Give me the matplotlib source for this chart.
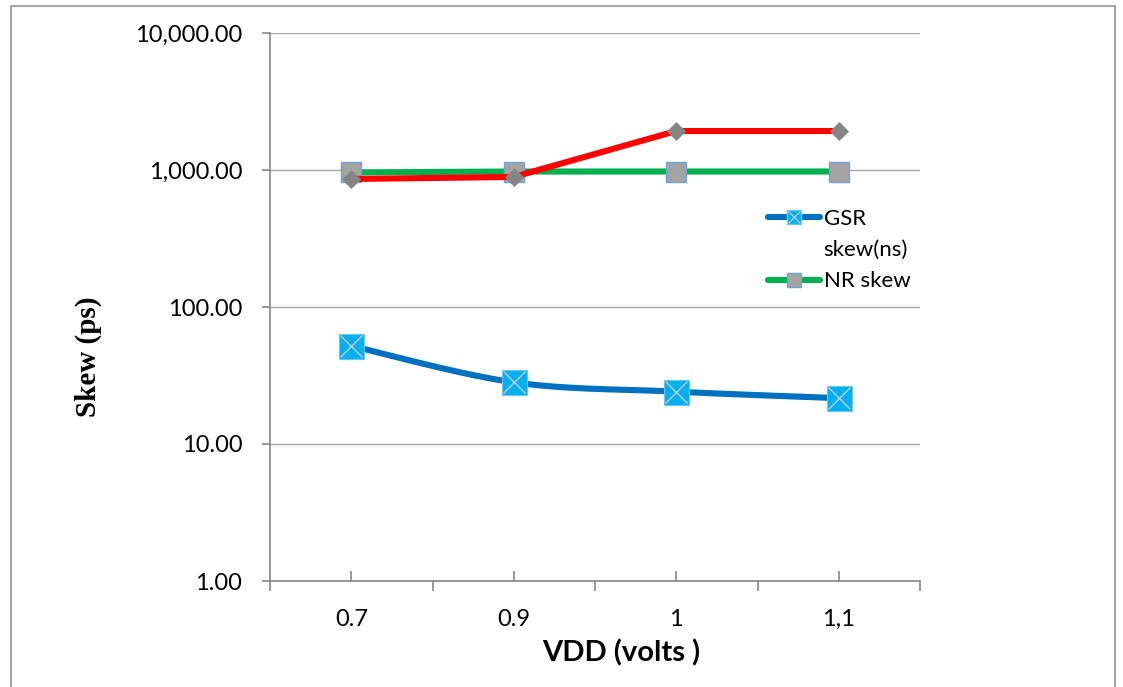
import numpy as np
import matplotlib
matplotlib.use("Agg")
import matplotlib.pyplot as plt
from matplotlib.lines import Line2D
from matplotlib.patches import Rectangle
from matplotlib.ticker import FuncFormatter, FixedLocator, NullFormatter
from matplotlib.legend_handler import HandlerTuple

# Supply voltage categories and skew measurements
vdd_labels = ["0.7", "0.9", "1", "1,1"]
gsr_skew = [52.0, 28.2, 24.1, 21.6]
nr_skew = [960.0, 975.0, 975.0, 975.0]
third_skew = [860.0, 890.0, 1925.0, 1925.0]
y_ticks = [1, 10, 100, 1000, 10000]

W, H = 1123, 687
fig = plt.figure(figsize=(W / 100, H / 100), dpi=100)
fig.patch.set_facecolor("white")

# axes box in pixel terms
left, right, top, bottom = 270, 920, 33, 581
ax = fig.add_axes([left / W, 1 - bottom / H, (right - left) / W, (bottom - top) / H])

tick_font = "Lato"
x = np.arange(len(vdd_labels))


def smooth_curve(xs, ys, n=40):
    """Bezier smoothing through the points in (x, log10 y) space."""
    px = np.asarray(xs, float)
    py = np.log10(np.asarray(ys, float))
    # scale to roughly pixel proportions so the smoothing looks even
    sx, sy = 162.5, 137.0
    P = np.column_stack([px * sx, py * sy])
    out = [P[0]]
    for i in range(len(P) - 1):
        p0 = P[i - 1] if i > 0 else P[i]
        p1 = P[i]
        p2 = P[i + 1]
        p3 = P[i + 2] if i + 2 < len(P) else P[i + 1]
        c1 = p1 + (p2 - p0) / 6.0
        c2 = p2 - (p3 - p1) / 6.0
        t = np.linspace(0, 1, n)[1:, None]
        seg = ((1 - t) ** 3) * p1 + 3 * ((1 - t) ** 2) * t * c1 + 3 * (1 - t) * t ** 2 * c2 + t ** 3 * p2
        out.extend(seg)
    out = np.array(out)
    return out[:, 0] / sx, 10 ** (out[:, 1] / sy)


# GSR skew: smoothed blue line with boxed-x markers
cx, cy = smooth_curve(x, gsr_skew)
ax.plot(cx, cy, color="#0070C0", lw=4.4, solid_capstyle="round", zorder=3)
ax.plot(x, gsr_skew, ls="none", marker="s", ms=18, mfc="#00B0F0", mec="#6CC8EE", mew=0.8, zorder=4)
ax.plot(x, gsr_skew, ls="none", marker="x", ms=16, mec="#C8C8C8", mew=1.0, zorder=5)

# NR skew: green line with grey squares
ax.plot(x, nr_skew, color="#00B050", lw=4.4, zorder=3)
ax.plot(x, nr_skew, ls="none", marker="s", ms=14, mfc="#A3A3A3", mec="#6FA3DC", mew=1.0, zorder=4)

# third series: red line with grey diamonds
ax.plot(x, third_skew, color="#FF0000", lw=4.4, zorder=5)
ax.plot(x, third_skew, ls="none", marker="D", ms=9.5, mfc="#858585", mec="#8A8A8A", mew=0.6, zorder=6)

ax.set_yscale("log")
ax.set_ylim(1, 10000)
ax.set_xlim(-0.5, len(vdd_labels) - 0.5)

ax.yaxis.set_major_locator(FixedLocator(y_ticks))
ax.yaxis.set_minor_locator(FixedLocator([]))
ax.yaxis.set_major_formatter(FuncFormatter(lambda v, p: f"{v:,.2f}"))
ax.grid(axis="y", which="major", color="#A6A6A6", lw=1.0, zorder=0)

ax.set_xticks(x)
ax.set_xticklabels(vdd_labels)
ax.xaxis.set_minor_locator(FixedLocator(np.arange(-0.5, len(vdd_labels), 1.0)))
ax.xaxis.set_minor_formatter(NullFormatter())

for s in ["top", "right"]:
    ax.spines[s].set_visible(False)
for s in ["left", "bottom"]:
    ax.spines[s].set_color("#868686")
    ax.spines[s].set_linewidth(1.2)

ax.tick_params(axis="x", which="major", direction="in", length=7, width=1.2, color="#868686",
               pad=20, labelsize=17)
ax.tick_params(axis="x", which="minor", direction="out", length=7, width=1.2, color="#868686")
ax.tick_params(axis="y", which="major", direction="out", length=6, width=1.2, color="#868686",
               pad=14, labelsize=17)
for lab in ax.get_xticklabels() + ax.get_yticklabels():
    lab.set_fontfamily(tick_font)

# axis titles
fig.text(621 / W, 1 - 653 / H, "VDD (volts )", ha="center", va="center",
         fontsize=21, fontweight="bold", family="Lato")
fig.text(88 / W, 1 - 357 / H, "Skew (ps)", ha="center", va="center", rotation=90,
         fontsize=21, fontweight="bold", family="Liberation Serif")

# legend
h_gsr_line = Line2D([], [], color="#0070C0", lw=4.4, marker="s", ms=10, mfc="#00B0F0", mec="#6CC8EE",
                    solid_capstyle="round")
h_gsr_x = Line2D([], [], ls="none", marker="x", ms=9, mec="#C8C8C8", mew=0.9)
h_blank = Line2D([], [], color="none")
h_nr = Line2D([], [], color="#00B050", lw=4.4, marker="s", ms=10, mfc="#A3A3A3", mec="#6FA3DC",
              solid_capstyle="round")
leg = fig.legend([(h_gsr_line, h_gsr_x), h_blank, h_nr], ["GSR", "skew(ns)", "NR skew"],
                 handler_map={tuple: HandlerTuple(ndivide=1, pad=0)},
                 loc="upper left", bbox_to_anchor=(757 / W, 1 - 198 / H),
                 frameon=False, prop={"family": "Lato", "size": 16},
                 handlelength=2.35, handletextpad=0.15, labelspacing=0.5, borderpad=0)

# outer chart border
fig.add_artist(Rectangle((11 / W, -0.05), (1115 - 11) / W, 1.05 - 6 / H,
                         transform=fig.transFigure, fill=False, edgecolor="#A6A6A6", lw=1.5))

fig.savefig("out.png", dpi=100)
